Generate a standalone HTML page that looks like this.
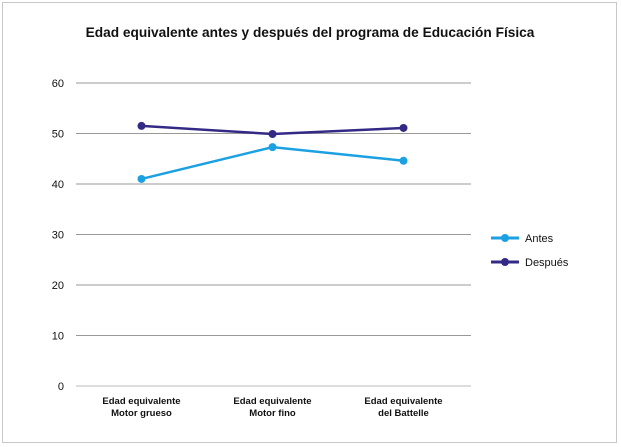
<!DOCTYPE html>
<html><head><meta charset="utf-8"><style>
body{margin:0;background:#fff;}
svg{display:block;font-family:"Liberation Sans",sans-serif;}
</style></head><body>
<svg id="chart" width="621" height="447">
<rect x="2.5" y="2.5" width="614" height="440" fill="#fff" stroke="#c8c8c8"/>
<text x="310" y="37" text-anchor="middle" font-size="13.7" font-weight="bold" fill="#111">Edad equivalente antes y después del programa de Educación Física</text>
<g id="grid"></g><g id="series"></g>
<g>
<g><line x1="491" y1="238" x2="519" y2="238" stroke="#1ba1e2" stroke-width="3"/><circle cx="505" cy="238" r="4" fill="#1ba1e2"/><text x="525" y="242" font-size="11" fill="#111">Antes</text></g>
<g><line x1="491" y1="262" x2="519" y2="262" stroke="#332a86" stroke-width="3"/><circle cx="505" cy="262" r="4" fill="#332a86"/><text x="525" y="266" font-size="11" fill="#111">Después</text></g>
</g>
</svg>
<script>
const categories=[["Edad equivalente","Motor grueso"],["Edad equivalente","Motor fino"],["Edad equivalente","del Battelle"]];
const antes=[41.0,47.3,44.6];
const despues=[51.5,49.9,51.1];
const yTicks=[0,10,20,30,40,50,60];
const NS="http://www.w3.org/2000/svg";
const x0=76,x1=469,yTop=83,yBot=386;
const xs=i=>x0+(x1-x0)/categories.length*(i+0.5);
const ys=v=>yBot-(v/60)*(yBot-yTop);
function mk(t,a,p){const e=document.createElementNS(NS,t);for(const k in a)e.setAttribute(k,a[k]);p.appendChild(e);return e;}
const g=document.getElementById('grid');
yTicks.forEach(t=>{
 const l=mk('line',{x1:x0,x2:x1+2,y1:ys(t),y2:ys(t),stroke:t===0?'#bbb':'#999','stroke-width':1},g);
 
 
 const tx=mk('text',{x:64,y:ys(t)+4,'text-anchor':'end','font-size':11,fill:'#111'},g);
 tx.textContent=t;
 
 
});
categories.forEach((c,i)=>{
 c.forEach((s,j)=>{
  const tx=mk('text',{x:xs(i),y:404+j*12,'text-anchor':'middle','font-size':9.5,'font-weight':'bold',fill:'#111'},g);
  tx.textContent=s;
  
  
 });
});
const sg=document.getElementById('series');
[[antes,'#1ba1e2','antes'],[despues,'#332a86','despues']].forEach(([vals,col,n])=>{
 const p=mk('polyline',{points:vals.map((v,i)=>xs(i)+','+ys(v)).join(' '),fill:'none',stroke:col,'stroke-width':2.5},sg);
 
 
 vals.forEach((v,i)=>{
  const c=mk('circle',{cx:xs(i),cy:ys(v),r:4,fill:col},sg);
  
  
 });
});
</script>
</body></html>
